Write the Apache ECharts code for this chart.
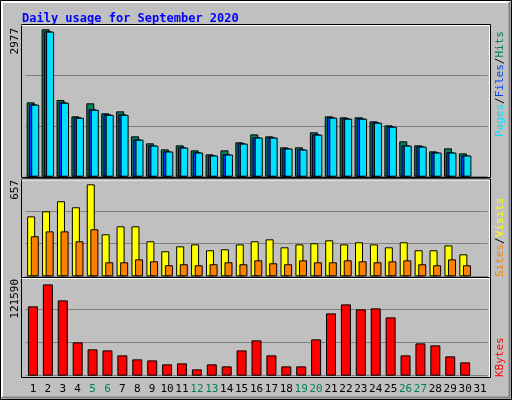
<!DOCTYPE html>
<html><head><meta charset="utf-8">
<script src="https://cdn.jsdelivr.net/npm/echarts@6/dist/echarts.min.js"></script>
<style>html,body{margin:0;padding:0;background:#c0c0c0}#main{width:512px;height:400px}</style>
</head><body><div id="main"></div>
<script>
var days = [];
for (var d = 1; d <= 31; d++) days.push(String(d));
var weekend = ['5', '6', '12', '13', '19', '20', '26', '27'];

var hits = [1502, 2977, 1549, 1219, 1482, 1280, 1320, 815, 674, 552, 633, 532, 451, 532, 694, 855, 815, 593, 593, 896, 1219, 1199, 1199, 1118, 1037, 714, 633, 512, 572, 471, null];
var files = [1461, 2936, 1502, 1199, 1360, 1259, 1259, 754, 633, 512, 593, 492, 431, 451, 674, 795, 795, 572, 552, 855, 1199, 1179, 1179, 1098, 1017, 633, 613, 492, 492, 431, null];
var pages = [1455, 2930, 1495, 1190, 1352, 1250, 1250, 748, 628, 508, 588, 488, 428, 448, 668, 790, 790, 568, 548, 850, 1192, 1172, 1172, 1090, 1010, 628, 608, 488, 488, 428, null];
var visits = [428, 464, 536, 493, 657, 300, 357, 357, 250, 179, 214, 228, 186, 193, 228, 250, 264, 207, 228, 236, 257, 228, 243, 228, 207, 243, 186, 186, 221, 157, null];
var sites = [286, 321, 321, 250, 336, 100, 100, 121, 107, 79, 86, 79, 86, 100, 86, 114, 93, 86, 114, 100, 100, 114, 107, 100, 107, 114, 86, 79, 121, 79, null];
var kbytes = [92310, 121590, 100300, 44380, 35060, 33730, 27070, 21750, 20410, 15090, 16420, 8430, 15090, 12430, 33730, 47040, 27070, 12430, 12430, 48370, 82990, 94970, 88320, 89650, 77670, 27070, 43050, 40390, 25740, 17750, null];

var font = 'DejaVu Sans Mono';
var myChart = echarts.init(document.getElementById('main'));

function xAx(idx, show) {
	return {
		type: 'category', gridIndex: idx, data: days,
		axisLine: {show: false}, axisTick: {show: false},
		axisLabel: {
			show: show, interval: 0, margin: 8, fontFamily: font, fontSize: 11,
			formatter: function(v) { return weekend.indexOf(v) >= 0 ? '{w|' + v + '}' : '{n|' + v + '}'; },
			rich: {w: {color: '#00805c', fontFamily: font, fontSize: 11}, n: {color: '#000', fontFamily: font, fontSize: 11}}
		}
	};
}
function yAx(idx, max) {
	return {
		type: 'value', gridIndex: idx, min: 0, max: max, interval: max / 3,
		axisLabel: {show: false}, axisLine: {show: false}, axisTick: {show: false},
		splitLine: {lineStyle: {color: '#808080', width: 1}}
	};
}
function frame(y, h) {
	return [
		{type: 'rect', shape: {x: 21.5, y: y + 0.5, width: 469, height: h}, style: {fill: null, stroke: '#000', lineWidth: 1}, z: 100},
		{type: 'polyline', shape: {points: [[21.5, y + 1.5], [489.5, y + 1.5], [489.5, y + h]]}, style: {stroke: '#fff', lineWidth: 1, fill: null}, z: 101}
	];
}
function vlabel(x, y, align, text, rich) {
	return {type: 'text', x: x, y: y, rotation: Math.PI / 2, z: 110,
		style: {text: text, align: align, verticalAlign: 'middle', fontFamily: font, fontSize: 11, fill: '#000', rich: rich}};
}
var bs = {borderColor: '#000', borderWidth: 1};

myChart.setOption({
	backgroundColor: '#c0c0c0',
	animation: false,
	title: {text: 'Daily usage for September 2020', left: 17, top: 8,
		textStyle: {color: '#0000ff', fontFamily: font, fontSize: 12, fontWeight: 'bold'}},
	grid: [
		{left: 25.5, right: 24.5, top: 25, height: 151.7},
		{left: 25.5, right: 24.5, top: 178.3, height: 98},
		{left: 25.5, right: 24.5, top: 276.7, height: 99}
	],
	xAxis: [xAx(0, false), xAx(1, false), xAx(2, true)],
	yAxis: [yAx(0, 3064), yAx(1, 700), yAx(2, 131850)],
	series: [
		{type: 'bar', xAxisIndex: 0, yAxisIndex: 0, data: hits, barWidth: 8, barGap: '-72%', itemStyle: Object.assign({color: '#00805c'}, bs)},
		{type: 'bar', xAxisIndex: 0, yAxisIndex: 0, data: files, barWidth: 8, barGap: '-72%', itemStyle: Object.assign({color: '#0040ff'}, bs)},
		{type: 'bar', xAxisIndex: 0, yAxisIndex: 0, data: pages, barWidth: 8, barGap: '-72%', itemStyle: Object.assign({color: '#00e0ff'}, bs)},
		{type: 'bar', xAxisIndex: 1, yAxisIndex: 1, data: visits, barWidth: 8, barGap: '-55%', itemStyle: Object.assign({color: '#ffff00'}, bs)},
		{type: 'bar', xAxisIndex: 1, yAxisIndex: 1, data: sites, barWidth: 8, barGap: '-55%', itemStyle: Object.assign({color: '#ff8000'}, bs)},
		{type: 'bar', xAxisIndex: 2, yAxisIndex: 2, data: kbytes, barWidth: 10, itemStyle: Object.assign({color: '#ff0000'}, bs)}
	],
	graphic: [].concat(
		[{type: 'rect', shape: {x: 0.5, y: 0.5, width: 511, height: 399}, style: {fill: null, stroke: '#000', lineWidth: 1}, z: 120},
		 {type: 'polyline', shape: {points: [[2, 397], [2, 2], [510, 2]]}, style: {stroke: '#fff', lineWidth: 2, fill: null}, z: 120},
		 {type: 'polyline', shape: {points: [[2, 397.5], [509.5, 397.5], [509.5, 2]]}, style: {stroke: '#808080', lineWidth: 2, fill: null}, z: 120}],
		frame(24, 153), frame(178.5, 99), frame(277, 100),
		[vlabel(15, 28, 'right', '2977'),
		 vlabel(15, 180, 'right', '657'),
		 vlabel(15, 279, 'right', '121590'),
		 vlabel(500, 137, 'left', '{p|Pages}{s|/}{f|Files}{s|/}{h|Hits}',
			{p: {fill: '#00e0ff', fontFamily: font, fontSize: 11}, f: {fill: '#0040ff', fontFamily: font, fontSize: 11},
			 h: {fill: '#00805c', fontFamily: font, fontSize: 11}, s: {fill: '#000', fontFamily: font, fontSize: 11}}),
		 vlabel(500, 277, 'left', '{a|Sites}{s|/}{b|Visits}',
			{a: {fill: '#ff8000', fontFamily: font, fontSize: 11}, b: {fill: '#ffff00', fontFamily: font, fontSize: 11},
			 s: {fill: '#000', fontFamily: font, fontSize: 11}}),
		 vlabel(500, 377, 'left', '{k|KBytes}', {k: {fill: '#ff0000', fontFamily: font, fontSize: 11}})]
	)
});
</script>
</body></html>
